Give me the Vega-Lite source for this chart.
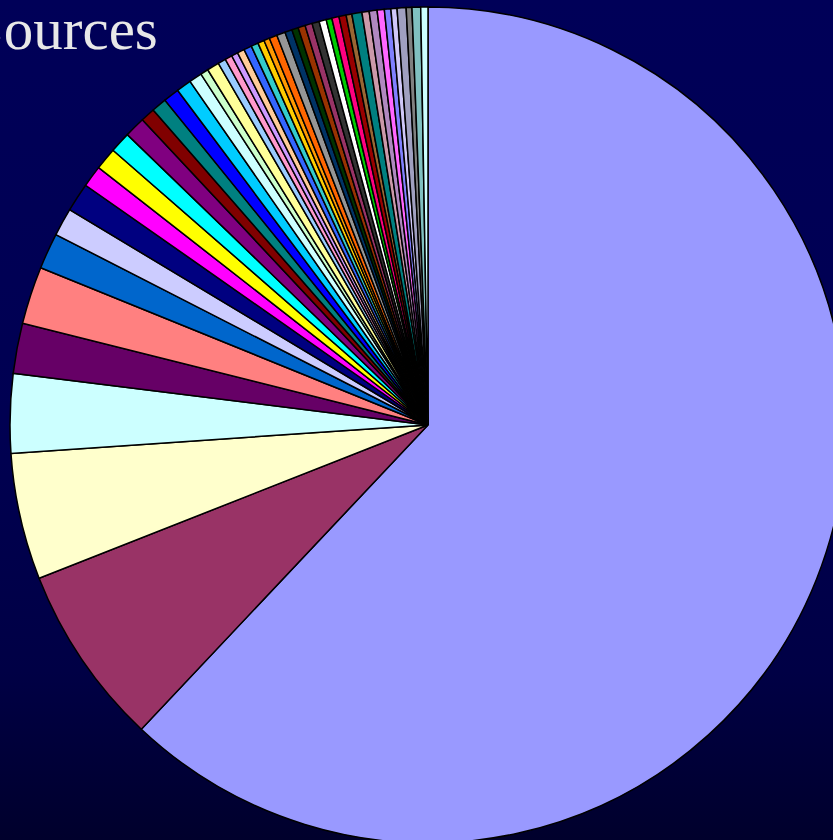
{
  "$schema": "https://vega.github.io/schema/vega-lite/v6.json",
  "width": 833,
  "height": 840,
  "autosize": {"type": "none"},
  "padding": 0,
  "background": "#000050",
  "config": {"view": {"stroke": null}},
  "title": {
    "text": "Sources",
    "anchor": "start",
    "frame": "group",
    "orient": "top",
    "offset": -108,
    "dx": -29,
    "baseline": "alphabetic",
    "font": "Liberation Serif",
    "fontSize": 59,
    "fontWeight": "normal",
    "color": "#e8e8e8"
  },
  "datasets": {
    "slices": [
      {"source": "S01", "share": 223.3, "rank": 1},
      {"source": "S02", "share": 25.2, "rank": 2},
      {"source": "S03", "share": 17.6, "rank": 3},
      {"source": "S04", "share": 11.0, "rank": 4},
      {"source": "S05", "share": 7.0, "rank": 5},
      {"source": "S06", "share": 8.0, "rank": 6},
      {"source": "S07", "share": 5.0, "rank": 7},
      {"source": "S08", "share": 3.9, "rank": 8},
      {"source": "S09", "share": 4.0, "rank": 9},
      {"source": "S10", "share": 3.0, "rank": 10},
      {"source": "S11", "share": 3.1, "rank": 11},
      {"source": "S12", "share": 2.9, "rank": 12},
      {"source": "S13", "share": 2.9, "rank": 13},
      {"source": "S14", "share": 2.0, "rank": 14},
      {"source": "S15", "share": 2.1, "rank": 15},
      {"source": "S16", "share": 2.2, "rank": 16},
      {"source": "S17", "share": 2.1, "rank": 17},
      {"source": "S18", "share": 1.8, "rank": 18},
      {"source": "S19", "share": 1.1, "rank": 19},
      {"source": "S20", "share": 1.7, "rank": 20},
      {"source": "S21", "share": 1.1, "rank": 21},
      {"source": "S22", "share": 1.0, "rank": 22},
      {"source": "S23", "share": 0.9, "rank": 23},
      {"source": "S24", "share": 1.0, "rank": 24},
      {"source": "S25", "share": 1.1, "rank": 25},
      {"source": "S26", "share": 1.0, "rank": 26},
      {"source": "S27", "share": 0.9, "rank": 27},
      {"source": "S28", "share": 0.8, "rank": 28},
      {"source": "S29", "share": 1.1, "rank": 29},
      {"source": "S30", "share": 1.2, "rank": 30},
      {"source": "S31", "share": 1.0, "rank": 31},
      {"source": "S32", "share": 0.9, "rank": 32},
      {"source": "S33", "share": 1.0, "rank": 33},
      {"source": "S34", "share": 1.0, "rank": 34},
      {"source": "S35", "share": 1.0, "rank": 35},
      {"source": "S36", "share": 1.0, "rank": 36},
      {"source": "S37", "share": 0.8, "rank": 37},
      {"source": "S38", "share": 1.0, "rank": 38},
      {"source": "S39", "share": 1.0, "rank": 39},
      {"source": "S40", "share": 0.8, "rank": 40},
      {"source": "S41", "share": 1.4, "rank": 41},
      {"source": "S42", "share": 1.0, "rank": 42},
      {"source": "S43", "share": 1.1, "rank": 43},
      {"source": "S44", "share": 1.0, "rank": 44},
      {"source": "S45", "share": 0.9, "rank": 45},
      {"source": "S46", "share": 0.85, "rank": 46},
      {"source": "S47", "share": 1.25, "rank": 47},
      {"source": "S48", "share": 0.8, "rank": 48},
      {"source": "S49", "share": 1.2, "rank": 49},
      {"source": "S50", "share": 1.0, "rank": 50}
    ]
  },
  "layer": [
    {
      "data": {"values": [{"panel": "background"}]},
      "mark": {
        "type": "rect",
        "fill": {
          "gradient": "linear",
          "x1": 0, "y1": 0, "x2": 0, "y2": 1,
          "stops": [
            {"offset": 0, "color": "#000058"},
            {"offset": 0.5, "color": "#000052"},
            {"offset": 0.8, "color": "#000045"},
            {"offset": 1, "color": "#00002c"}
          ]
        }
      },
      "encoding": {
        "x": {"value": 0},
        "x2": {"value": "width"},
        "y": {"value": 0},
        "y2": {"value": "height"}
      }
    },
    {
      "data": {"name": "slices"},
      "mark": {
        "type": "arc",
        "radius": 418,
        "stroke": "#000000",
        "strokeWidth": 1.5,
        "xOffset": 11.5,
        "yOffset": 5
      },
      "encoding": {
        "theta": {"field": "share", "type": "quantitative", "stack": true},
        "order": {"field": "rank", "type": "quantitative", "sort": "ascending"},
        "color": {
          "field": "source",
          "type": "nominal",
          "legend": null,
          "scale": {
            "domain": ["S01","S02","S03","S04","S05","S06","S07","S08","S09","S10","S11","S12","S13","S14","S15","S16","S17","S18","S19","S20","S21","S22","S23","S24","S25","S26","S27","S28","S29","S30","S31","S32","S33","S34","S35","S36","S37","S38","S39","S40","S41","S42","S43","S44","S45","S46","S47","S48","S49","S50"],
            "range": ["#9999FF","#993366","#FFFFCC","#CCFFFF","#660066","#FF8080","#0066CC","#CCCCFF","#000080","#FF00FF","#FFFF00","#00FFFF","#800080","#800000","#008080","#0000FF","#00CCFF","#CCFFFF","#CCFFCC","#FFFF99","#99CCFF","#FF99CC","#CC99FF","#FFCC99","#3366FF","#33CCCC","#FFCC00","#FF9900","#FF6600","#969696","#003366","#003300","#993300","#993366","#333333","#FFFFFF","#00CC00","#FF0080","#990000","#996633","#008080","#CC99AA","#B088C0","#FF66FF","#8080FF","#D0C8F8","#A0A0C0","#808080","#80C0C0","#CCFFFF"]
          }
        }
      }
    }
  ]
}
